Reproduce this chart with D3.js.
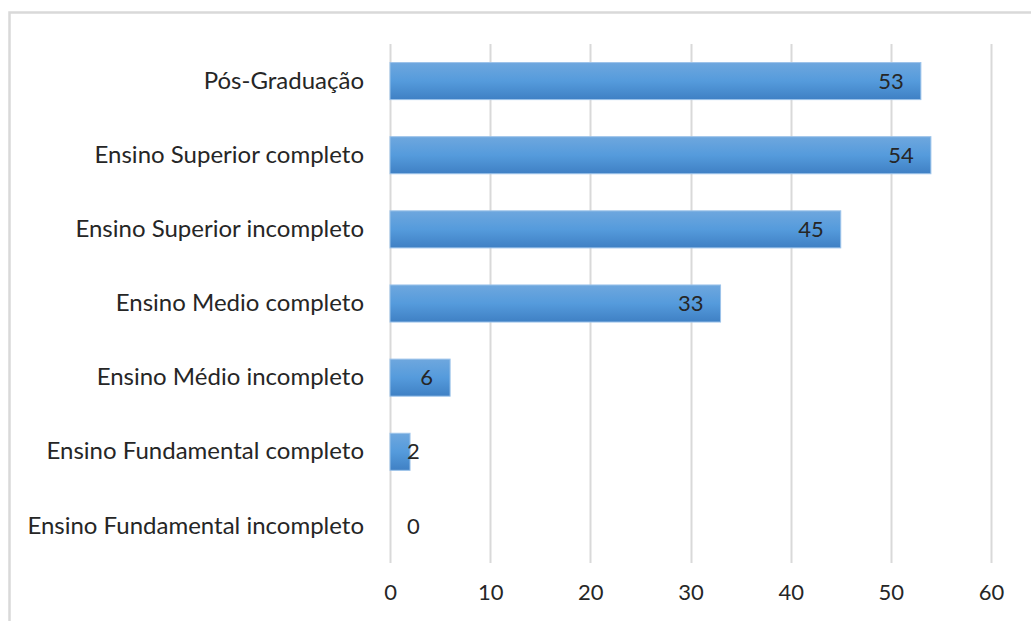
<!DOCTYPE html>
<html>
<head>
<meta charset="utf-8">
<script src="https://cdn.jsdelivr.net/npm/d3@7"></script>
<style>
  html, body { margin: 0; padding: 0; background: #fff; }
  svg { display: block; }
  text { font-family: Lato, "Noto Sans", sans-serif; fill: #262626; }
</style>
</head>
<body>
<svg id="chart" width="1031" height="621"></svg>
<script>
// Escolaridade dos respondentes
const categories = [
  "Pós-Graduação",
  "Ensino Superior completo",
  "Ensino Superior incompleto",
  "Ensino Medio completo",
  "Ensino Médio incompleto",
  "Ensino Fundamental completo",
  "Ensino Fundamental incompleto"
];
const values = [53, 54, 45, 33, 6, 2, 0];
const tickValues = [0, 10, 20, 30, 40, 50, 60];

const svg = d3.select("#chart");

// outer chart frame
svg.append("rect")
  .attr("x", 9.5).attr("y", 12.5)
  .attr("width", 1040).attr("height", 640)
  .attr("fill", "none")
  .attr("stroke", "#d9d9d9")
  .attr("stroke-width", 2.5);

const x = d3.scaleLinear().domain([0, 60]).range([390, 991]);
const y = d3.scaleBand().domain(categories).range([44, 563]).paddingInner(0.5).paddingOuter(0.25);

// gradient fill for bars
const defs = svg.append("defs");
const grad = defs.append("linearGradient")
  .attr("id", "barGrad").attr("x1", 0).attr("x2", 0).attr("y1", 0).attr("y2", 1);
grad.append("stop").attr("offset", "0%").attr("stop-color", "#6ea7de");
grad.append("stop").attr("offset", "50%").attr("stop-color", "#559bdc");
grad.append("stop").attr("offset", "100%").attr("stop-color", "#3f80c4");

// vertical gridlines
svg.append("g")
  .selectAll("line")
  .data(tickValues)
  .join("line")
  .attr("x1", d => Math.round(x(d)) + 0.5)
  .attr("x2", d => Math.round(x(d)) + 0.5)
  .attr("y1", 44).attr("y2", 563)
  .attr("stroke", "#d9d9d9")
  .attr("stroke-width", 2);

// x axis tick labels
const xAxis = d3.axisBottom(x).tickValues(tickValues).tickSize(0).tickPadding(0);
const gx = svg.append("g").attr("transform", "translate(0,584)").call(xAxis);
gx.select(".domain").remove();
gx.selectAll("text")
  .attr("dy", "0.71em")
  .style("font-family", "Lato, 'Noto Sans', sans-serif")
  .style("font-size", "22px")
  .style("fill", "#262626");

// y axis category labels
const yAxis = d3.axisLeft(y).tickSize(0).tickPadding(26);
const gy = svg.append("g").attr("transform", "translate(390,0)").call(yAxis);
gy.select(".domain").remove();
gy.selectAll("text")
  .style("font-family", "Lato, 'Noto Sans', sans-serif")
  .style("font-size", "24px")
  .style("fill", "#262626");

// bars
svg.append("g")
  .selectAll("rect")
  .data(values)
  .join("rect")
  .attr("x", x(0))
  .attr("y", (d, i) => y(categories[i]))
  .attr("width", d => x(d) - x(0))
  .attr("height", y.bandwidth())
  .attr("fill", "url(#barGrad)")
  .attr("stroke", d => d > 0 ? "#9cc3ea" : "none")
  .attr("stroke-width", 1);

// value labels at the inside end of each bar
const labels = svg.append("g")
  .selectAll("text")
  .data(values)
  .join("text")
  .attr("y", (d, i) => y(categories[i]) + y.bandwidth() / 2)
  .attr("dy", "0.35em")
  .style("font-size", "22px")
  .text(d => d);

labels.each(function(d) {
  const w = this.getComputedTextLength();
  const left = Math.max(x(d) - 17 - w, x(0) + 17);
  d3.select(this).attr("x", left);
});
</script>
</body>
</html>
